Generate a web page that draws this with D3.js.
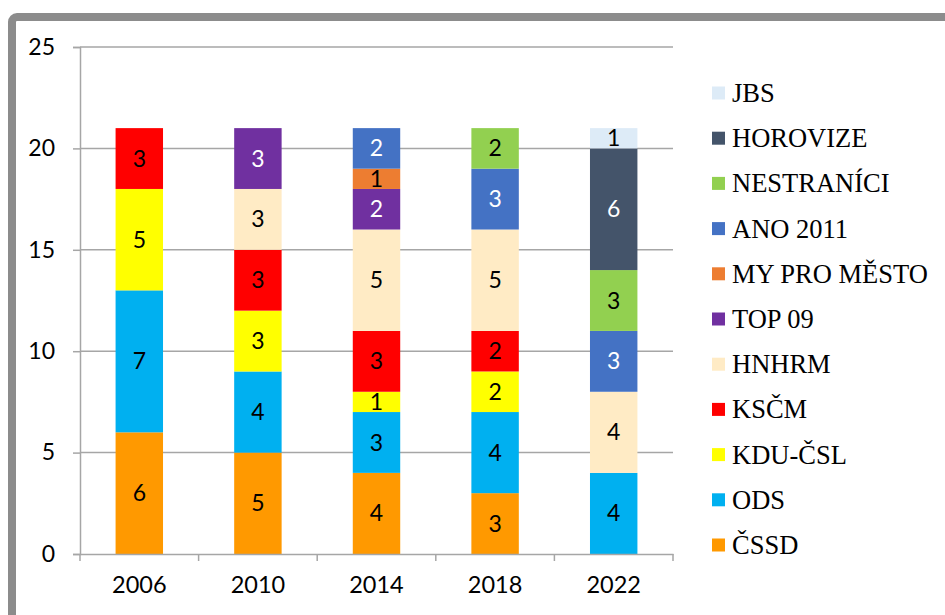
<!DOCTYPE html>
<html>
<head>
<meta charset="utf-8">
<script src="https://cdn.jsdelivr.net/npm/d3@7.9.0/dist/d3.min.js"></script>
<style>
  body { margin: 0; background: #fff; }
  svg { display: block; }
</style>
</head>
<body>
<svg id="chart" width="945" height="615"></svg>
<script>
const years = ['2006', '2010', '2014', '2018', '2022'];

// stack order, bottom to top
const parties = ['ČSSD', 'ODS', 'KDU-ČSL', 'KSČM', 'HNHRM', 'TOP 09', 'MY PRO MĚSTO', 'ANO 2011', 'NESTRANÍCI', 'HOROVIZE', 'JBS'];

const cssd      = [6, 5, 4, 3, 0];
const ods       = [7, 4, 3, 4, 4];
const kdu       = [5, 3, 1, 2, 0];
const kscm      = [3, 3, 3, 2, 0];
const hnhrm     = [0, 3, 5, 5, 4];
const top09     = [0, 3, 2, 0, 0];
const myProMesto = [0, 0, 1, 0, 0];
const ano       = [0, 0, 2, 3, 3];
const nestranici = [0, 0, 0, 2, 3];
const horovize  = [0, 0, 0, 0, 6];
const jbs       = [0, 0, 0, 0, 1];

const yTicks = [0, 5, 10, 15, 20, 25];

const colors = ['#FF9900', '#00B0F0', '#FFFF00', '#FF0000', '#FFEBC5', '#7030A0', '#ED7D31', '#4472C4', '#92D050', '#44546A', '#DDEBF7'];
const whiteText = new Set(['TOP 09', 'ANO 2011', 'HOROVIZE']);

const seriesValues = [cssd, ods, kdu, kscm, hnhrm, top09, myProMesto, ano, nestranici, horovize, jbs];

const rows = years.map((yr, i) => {
  const r = { year: yr };
  parties.forEach((p, k) => { r[p] = seriesValues[k][i]; });
  return r;
});

const svg = d3.select('#chart');
const font = 'Lato, "Open Sans", sans-serif';

// outer frame (only top/left visible)
svg.append('rect')
  .attr('x', 12).attr('y', 17)
  .attr('width', 1000).attr('height', 700)
  .attr('rx', 5)
  .attr('fill', 'none')
  .attr('stroke', '#8C8C8C')
  .attr('stroke-width', 8);

const plotLeft = 80, plotRight = 673, plotTop = 47, plotBottom = 554;

const x = d3.scaleBand().domain(years).range([plotLeft, plotRight]);
const y = d3.scaleLinear().domain([0, 25]).range([plotBottom, plotTop]);

// gridlines
svg.append('g')
  .selectAll('line')
  .data(yTicks.filter(t => t > 0))
  .join('line')
  .attr('x1', plotLeft).attr('x2', plotRight)
  .attr('y1', d => y(d)).attr('y2', d => y(d))
  .attr('stroke', '#A6A6A6')
  .attr('stroke-width', 1.5);

const stacked = d3.stack().keys(parties)(rows);

const barW = x.bandwidth() * 0.4;

const layers = svg.append('g')
  .selectAll('g')
  .data(stacked)
  .join('g')
  .attr('fill', (d, i) => colors[i]);

layers.selectAll('rect')
  .data(d => d.filter(s => s[1] - s[0] > 0))
  .join('rect')
  .attr('x', d => x(d.data.year) + (x.bandwidth() - barW) / 2)
  .attr('width', barW)
  .attr('y', d => y(d[1]))
  .attr('height', d => y(d[0]) - y(d[1]));

layers.each(function(layer) {
  d3.select(this).selectAll('text')
    .data(layer.filter(s => s[1] - s[0] > 0))
    .join('text')
    .attr('x', d => x(d.data.year) + x.bandwidth() / 2)
    .attr('y', d => (y(d[0]) + y(d[1])) / 2)
    .attr('dy', '0.35em')
    .attr('text-anchor', 'middle')
    .attr('font-family', font)
    .attr('font-size', 23)
    .attr('fill', whiteText.has(layer.key) ? '#fff' : '#000')
    .text(d => d[1] - d[0]);
});

// y axis
const yAxis = svg.append('g')
  .attr('transform', `translate(${plotLeft},0)`)
  .call(d3.axisLeft(y).tickValues(yTicks).tickSize(7).tickPadding(18));
yAxis.select('.domain').attr('stroke', '#A6A6A6').attr('stroke-width', 1.5);
yAxis.selectAll('.tick line').attr('stroke', '#A6A6A6').attr('stroke-width', 1.5);
yAxis.selectAll('.tick text')
  .attr('font-family', font).attr('font-size', 23).attr('fill', '#000');

// x axis
const xAxis = svg.append('g')
  .attr('transform', `translate(0,${plotBottom})`)
  .call(d3.axisBottom(x).tickSize(0).tickPadding(22));
xAxis.select('.domain').attr('stroke', '#A6A6A6').attr('stroke-width', 1.5);
xAxis.selectAll('.tick text')
  .attr('font-family', font).attr('font-size', 23.5).attr('fill', '#000');
xAxis.selectAll('.sep')
  .data(d3.range(years.length + 1))
  .join('line')
  .attr('class', 'sep')
  .attr('x1', i => plotLeft + i * x.step()).attr('x2', i => plotLeft + i * x.step())
  .attr('y1', 0).attr('y2', 7)
  .attr('stroke', '#A6A6A6').attr('stroke-width', 1.5);

// legend (top to bottom reverse stack order)
const legendItems = parties.map((p, i) => ({ name: p, color: colors[i] })).reverse();
const legend = svg.append('g')
  .selectAll('g')
  .data(legendItems)
  .join('g')
  .attr('transform', (d, i) => `translate(712,${93 + i * 45.2})`);

legend.append('rect')
  .attr('x', 0).attr('y', -6.5)
  .attr('width', 13).attr('height', 13)
  .attr('fill', d => d.color);

legend.append('text')
  .attr('x', 20).attr('y', 9)
  .attr('font-family', '"Liberation Serif", "Times New Roman", serif')
  .attr('font-size', 26.5)
  .attr('fill', '#000')
  .text(d => d.name);
</script>
</body>
</html>
